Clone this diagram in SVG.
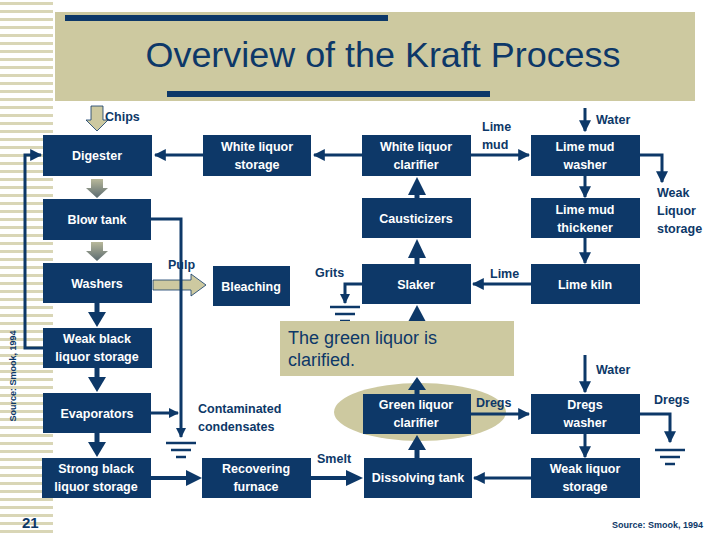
<svg xmlns="http://www.w3.org/2000/svg" width="720" height="540" viewBox="0 0 720 540">
<style>
.n{fill:#0d3868}
.t{fill:#fff;font-family:"Liberation Sans",Arial,sans-serif;font-weight:bold;font-size:12.5px;text-anchor:middle}
.l{fill:#0d3868;font-family:"Liberation Sans",Arial,sans-serif;font-weight:bold;font-size:12.5px}
.c{stroke:#0d3868;stroke-width:3;fill:none}
.g{stroke:#0d3868;stroke-width:2.5}
</style>
<defs>
<marker id="a" viewBox="0 0 10 10" refX="9" refY="5" markerWidth="4" markerHeight="4" orient="auto"><path d="M0,0L10,5L0,10z" fill="#0d3868"/></marker>
<marker id="b" viewBox="0 0 10 10" refX="9" refY="5" markerWidth="3.4" markerHeight="3.4" orient="auto"><path d="M0,0L10,5L0,10z" fill="#0d3868"/></marker>
<linearGradient id="gr" x1="0" x2="0" y1="0" y2="1"><stop offset="0" stop-color="#b8b89a"/><stop offset="1" stop-color="#5a6a70"/></linearGradient>
<g id="gnd"><line x1="-15" x2="15" y1="0" y2="0" class="g"/><line x1="-10" x2="10" y1="7" y2="7" class="g"/><line x1="-5" x2="5" y1="14" y2="14" class="g"/></g>
</defs>
<rect width="720" height="540" fill="#fff"/>
<g id="stripes" fill="#d9d6b6">
<rect x="0" y="2" width="53" height="3"/><rect x="0" y="10" width="53" height="3"/><rect x="0" y="18" width="53" height="3"/><rect x="0" y="26" width="53" height="3"/><rect x="0" y="34" width="53" height="3"/><rect x="0" y="42" width="53" height="3"/><rect x="0" y="50" width="53" height="3"/><rect x="0" y="58" width="53" height="3"/><rect x="0" y="66" width="53" height="3"/><rect x="0" y="74" width="53" height="3"/><rect x="0" y="82" width="53" height="3"/><rect x="0" y="90" width="53" height="3"/><rect x="0" y="98" width="53" height="3"/><rect x="0" y="106" width="53" height="3"/><rect x="0" y="114" width="53" height="3"/><rect x="0" y="122" width="53" height="3"/><rect x="0" y="130" width="53" height="3"/><rect x="0" y="138" width="53" height="3"/><rect x="0" y="146" width="53" height="3"/><rect x="0" y="154" width="53" height="3"/><rect x="0" y="162" width="53" height="3"/><rect x="0" y="170" width="53" height="3"/><rect x="0" y="178" width="53" height="3"/><rect x="0" y="186" width="53" height="3"/><rect x="0" y="194" width="53" height="3"/><rect x="0" y="202" width="53" height="3"/><rect x="0" y="210" width="53" height="3"/><rect x="0" y="218" width="53" height="3"/><rect x="0" y="226" width="53" height="3"/><rect x="0" y="234" width="53" height="3"/><rect x="0" y="242" width="53" height="3"/><rect x="0" y="250" width="53" height="3"/><rect x="0" y="258" width="53" height="3"/><rect x="0" y="266" width="53" height="3"/><rect x="0" y="274" width="53" height="3"/><rect x="0" y="282" width="53" height="3"/><rect x="0" y="290" width="53" height="3"/><rect x="0" y="298" width="53" height="3"/><rect x="0" y="306" width="53" height="3"/><rect x="0" y="314" width="53" height="3"/><rect x="0" y="322" width="53" height="3"/><rect x="0" y="330" width="53" height="3"/><rect x="0" y="338" width="53" height="3"/><rect x="0" y="346" width="53" height="3"/><rect x="0" y="354" width="53" height="3"/><rect x="0" y="362" width="53" height="3"/><rect x="0" y="370" width="53" height="3"/><rect x="0" y="378" width="53" height="3"/><rect x="0" y="386" width="53" height="3"/><rect x="0" y="394" width="53" height="3"/><rect x="0" y="402" width="53" height="3"/><rect x="0" y="410" width="53" height="3"/><rect x="0" y="418" width="53" height="3"/><rect x="0" y="426" width="53" height="3"/><rect x="0" y="434" width="53" height="3"/><rect x="0" y="442" width="53" height="3"/><rect x="0" y="450" width="53" height="3"/><rect x="0" y="458" width="53" height="3"/><rect x="0" y="466" width="53" height="3"/><rect x="0" y="474" width="53" height="3"/><rect x="0" y="482" width="53" height="3"/><rect x="0" y="490" width="53" height="3"/><rect x="0" y="498" width="53" height="3"/><rect x="0" y="506" width="53" height="3"/><rect x="0" y="514" width="53" height="3"/><rect x="0" y="522" width="53" height="3"/><rect x="0" y="530" width="53" height="3"/>
</g>
<g id="banner">
<rect x="55" y="12" width="640" height="89" fill="#cdc9a0"/>
<rect x="65" y="15" width="323" height="6" fill="#0d3868"/>
<rect x="167" y="91" width="323" height="6" fill="#0d3868"/>
<text x="383" y="67" font-family="Liberation Sans,Arial,sans-serif" font-size="35" fill="#0d3868" text-anchor="middle" textLength="475" lengthAdjust="spacingAndGlyphs">Overview of the Kraft Process</text>
</g>
<ellipse cx="420" cy="412" rx="86" ry="29" fill="#cdc9a0"/>
<g id="connectors">
<path d="M91,106h12v14h5l-11,11l-11,-11h5z" fill="#cdc9a0" stroke="#0d3868" stroke-width="0.8"/>
<path d="M91,179h12v9h5l-11,10l-11,-10h5z" fill="url(#gr)"/>
<path d="M91,242h12v9h5l-11,10l-11,-10h5z" fill="url(#gr)"/>
<path d="M153,280h38v-6l15,11l-15,11v-6h-38z" fill="#cdc9a0" stroke="#0d3868" stroke-width="0.8"/>
<path class="c" d="M203,155H155" marker-end="url(#a)"/>
<path class="c" d="M362,155H314" marker-end="url(#a)"/>
<path class="c" d="M471,155H529" marker-end="url(#a)"/>
<path class="c" d="M585,108V131" marker-end="url(#a)"/>
<path class="c" d="M640,155H662V182" marker-end="url(#a)"/>
<path class="c" d="M585,176V197" marker-end="url(#a)"/>
<path class="c" d="M585,238V263" marker-end="url(#a)"/>
<path class="c" d="M531,284H473" marker-end="url(#a)"/>
<path class="c" d="M362,284H345V303" marker-end="url(#b)"/>
<path d="M417,304V256" stroke="#0d3868" stroke-width="5"/><path d="M408,258l9,-19l9,19z" fill="#0d3868"/>
<path d="M417,238V192" stroke="#0d3868" stroke-width="5"/><path d="M408,195l9,-18l9,18z" fill="#0d3868"/>
<path d="M417,321V318" stroke="#0d3868" stroke-width="5"/><path d="M408,322l9,-17l9,17z" fill="#0d3868"/>
<path d="M417,394V386" stroke="#0d3868" stroke-width="5"/><path d="M408,390l9,-13l9,13z" fill="#0d3868"/>
<path d="M417,458V448" stroke="#0d3868" stroke-width="5"/><path d="M408,450l9,-15l9,15z" fill="#0d3868"/>
<path class="c" d="M531,478H474" marker-end="url(#a)"/>
<path class="c" d="M585,434V457" marker-end="url(#a)"/>
<path class="c" d="M585,355V392" marker-end="url(#a)"/>
<path class="c" d="M471,414H529" marker-end="url(#a)"/>
<path class="c" d="M640,414H670V442" marker-end="url(#a)"/>
<path d="M311,478H348" stroke="#0d3868" stroke-width="4"/><path d="M346,470l17,8l-17,8z" fill="#0d3868"/>
<path d="M151,478H188" stroke="#0d3868" stroke-width="4"/><path d="M186,470l16,8l-16,8z" fill="#0d3868"/>
<path d="M97,303V314" stroke="#0d3868" stroke-width="5"/><path d="M88,312l9,15l9,-15z" fill="#0d3868"/>
<path d="M97,368V379" stroke="#0d3868" stroke-width="5"/><path d="M88,377l9,15l9,-15z" fill="#0d3868"/>
<path d="M97,433V444" stroke="#0d3868" stroke-width="5"/><path d="M88,442l9,15l9,-15z" fill="#0d3868"/>
<path class="c" d="M151,219H181V437" marker-end="url(#b)"/>
<path class="c" d="M151,413H178" marker-end="url(#b)"/>
<path class="c" d="M43,348H25V155H41" marker-end="url(#a)"/>
<use href="#gnd" x="181" y="443"/>
<use href="#gnd" x="345" y="307"/>
<use href="#gnd" x="670" y="450"/>
</g>
<g id="callout">
<rect x="280" y="321" width="234" height="55" fill="#cdc9a0"/>
<text font-family="Liberation Sans,Arial,sans-serif" font-size="18" fill="#0d3868"><tspan x="288" y="344">The green liquor is</tspan><tspan x="288" y="366">clarified.</tspan></text>
</g>
<g id="digester"><rect class="n" x="43" y="135" width="109" height="41"/><text class="t" x="97" y="160">Digester</text></g>
<g id="wls"><rect class="n" x="203" y="135" width="108" height="41"/><text class="t" x="257" y="151">White liquor</text><text class="t" x="257" y="169">storage</text></g>
<g id="wlc"><rect class="n" x="362" y="135" width="109" height="41"/><text class="t" x="416" y="151">White liquor</text><text class="t" x="416" y="169">clarifier</text></g>
<g id="lmw"><rect class="n" x="531" y="135" width="109" height="41"/><text class="t" x="585" y="151">Lime mud</text><text class="t" x="585" y="169">washer</text></g>
<g id="blow"><rect class="n" x="43" y="199" width="108" height="41"/><text class="t" x="97" y="224">Blow tank</text></g>
<g id="caus"><rect class="n" x="362" y="198" width="109" height="40"/><text class="t" x="416" y="223">Causticizers</text></g>
<g id="lmt"><rect class="n" x="531" y="198" width="109" height="40"/><text class="t" x="585" y="214">Lime mud</text><text class="t" x="585" y="232">thickener</text></g>
<g id="washers"><rect class="n" x="43" y="263" width="109" height="40"/><text class="t" x="97" y="288">Washers</text></g>
<g id="bleach"><rect class="n" x="213" y="266" width="77" height="40"/><text class="t" x="251" y="291">Bleaching</text></g>
<g id="slaker"><rect class="n" x="362" y="264" width="109" height="40"/><text class="t" x="416" y="289">Slaker</text></g>
<g id="kiln"><rect class="n" x="531" y="264" width="109" height="40"/><text class="t" x="585" y="289">Lime kiln</text></g>
<g id="wbl"><rect class="n" x="43" y="328" width="109" height="40"/><text class="t" x="97" y="343">Weak black</text><text class="t" x="97" y="361">liquor storage</text></g>
<g id="evap"><rect class="n" x="43" y="393" width="108" height="40"/><text class="t" x="97" y="418">Evaporators</text></g>
<g id="glc"><rect class="n" x="363" y="394" width="108" height="40"/><text class="t" x="416" y="409">Green liquor</text><text class="t" x="416" y="427">clarifier</text></g>
<g id="dw"><rect class="n" x="531" y="394" width="109" height="40"/><text class="t" x="585" y="409">Dregs</text><text class="t" x="585" y="427">washer</text></g>
<g id="sbl"><rect class="n" x="42" y="458" width="109" height="40"/><text class="t" x="96" y="473">Strong black</text><text class="t" x="96" y="491">liquor storage</text></g>
<g id="rf"><rect class="n" x="202" y="458" width="109" height="40"/><text class="t" x="256" y="473">Recovering</text><text class="t" x="256" y="491">furnace</text></g>
<g id="dt"><rect class="n" x="364" y="458" width="108" height="40"/><text class="t" x="418" y="482">Dissolving tank</text></g>
<g id="wlst"><rect class="n" x="531" y="458" width="109" height="40"/><text class="t" x="585" y="473">Weak liquor</text><text class="t" x="585" y="491">storage</text></g>
<g id="labels">
<text class="l" x="105" y="121">Chips</text>
<text class="l" x="482" y="131">Lime</text><text class="l" x="482" y="149">mud</text>
<text class="l" x="596" y="124">Water</text>
<text class="l" x="657" y="197">Weak</text><text class="l" x="657" y="215">Liquor</text><text class="l" x="657" y="233">storage</text>
<text class="l" x="168" y="269">Pulp</text>
<text class="l" x="315" y="277">Grits</text>
<text class="l" x="490" y="278">Lime</text>
<text class="l" x="596" y="374">Water</text>
<text class="l" x="476" y="407">Dregs</text>
<text class="l" x="654" y="404">Dregs</text>
<text class="l" x="198" y="413">Contaminated</text><text class="l" x="198" y="431">condensates</text>
<text class="l" x="317" y="463">Smelt</text>
<text x="22" y="528" font-family="Liberation Sans,Arial,sans-serif" font-weight="bold" font-size="15" fill="#0d3868">21</text>
<text x="612" y="528" font-family="Liberation Sans,Arial,sans-serif" font-weight="bold" font-size="9" fill="#0d3868">Source: Smook, 1994</text>
<text transform="translate(16,420) rotate(-90)" font-family="Liberation Sans,Arial,sans-serif" font-weight="bold" font-size="9" fill="#0d3868" text-anchor="middle" x="44">Source: Smook, 1994</text>
</g>
</svg>
